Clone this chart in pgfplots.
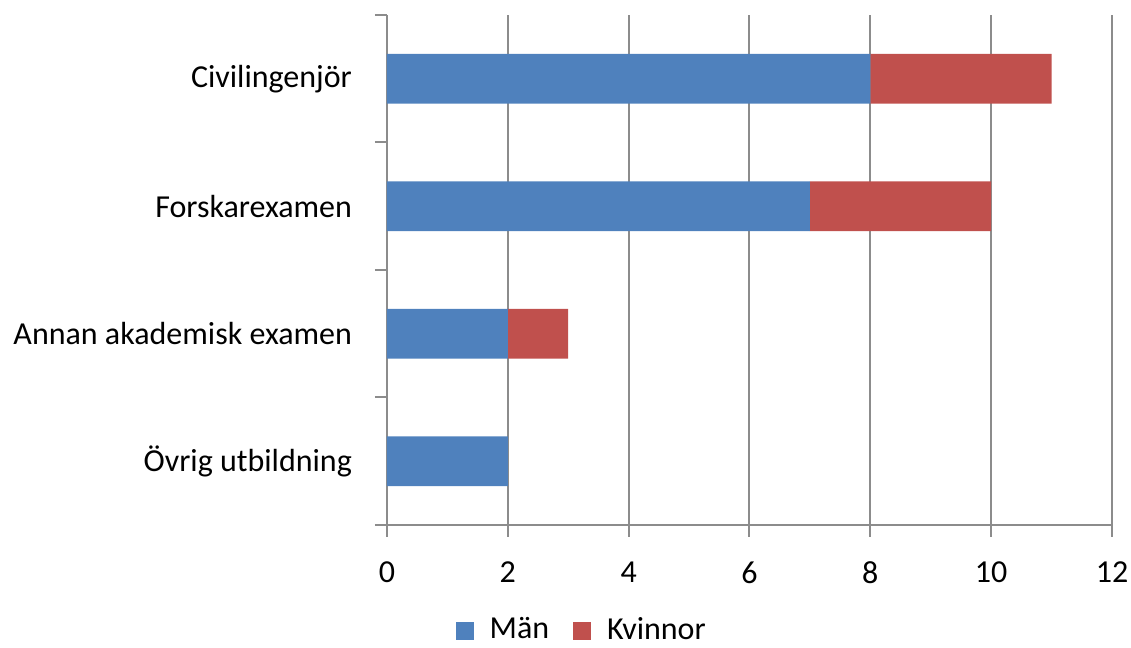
\documentclass[border=0pt]{standalone}
\usepackage{pgfplots}
\pgfplotsset{compat=1.18}
\usepackage{fontspec}
\setmainfont{Carlito}
\definecolor{manblue}{HTML}{4F81BD}
\definecolor{kvred}{HTML}{C0504D}
\definecolor{gridgray}{HTML}{8C8C8C}
\begin{document}
\fontsize{16}{18}\selectfont
\begin{tikzpicture}
\useasboundingbox (-193.5pt,-61.5pt) rectangle (372pt,262.5pt);
\begin{axis}[
  at={(0,0)}, anchor=south west,
  scale only axis, width=362.5pt, height=255pt,
  xbar stacked, bar width=0.39,
  xmin=0, xmax=12, xtick={0,2,...,12},
  ymin=-0.5, ymax=3.5,
  ytick={-0.5,0.5,1.5,2.5,3.5}, yticklabels={},
  extra y ticks={0,1,2,3},
  extra y tick labels={Övrig utbildning, Annan akademisk examen, Forskarexamen, Civilingenjör},
  extra y tick style={major tick length=0pt, yticklabel style={xshift=-12pt}},
  axis x line*=bottom, axis y line*=left,
  axis line style={gridgray, line width=1pt, -},
  xmajorgrids, grid style={gridgray, line width=1pt},
  major tick length=6pt,
  tick align=outside,
  tick style={gridgray, line width=1pt},
  /pgf/number format/assume math mode=true,
  ticklabel style={font=\fontsize{16}{18}\selectfont, text=black},
  xticklabel style={yshift=-7pt},
  legend style={at={(0.27,-0.207)}, anchor=center, draw=none, legend columns=2,
    font=\fontsize{16}{18}\selectfont, inner sep=0pt,
    /tikz/every odd column/.append style={column sep=6pt},
    /tikz/every even column/.append style={column sep=10pt}},
  legend image code/.code={\fill[#1] (0pt,-4.5pt) rectangle (9pt,4.5pt);},
]
\addplot[fill=manblue, draw=none] coordinates {(2,0) (2,1) (7,2) (8,3)};
\addplot[fill=kvred, draw=none] coordinates {(0,0) (1,1) (3,2) (3,3)};
\legend{Män, Kvinnor}
\end{axis}
\end{tikzpicture}
\end{document}
